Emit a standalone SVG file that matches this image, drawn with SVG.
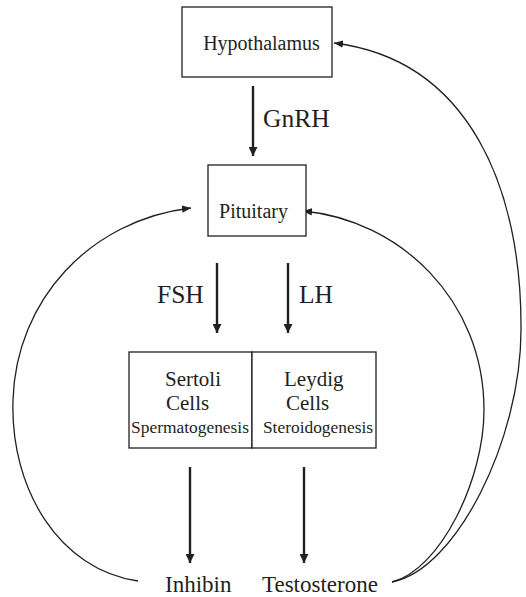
<svg xmlns="http://www.w3.org/2000/svg" width="526" height="597" viewBox="0 0 526 597">
  <style>
    .box { fill: #ffffff; stroke: #231f20; stroke-width: 1.3; }
    .lbl { font-family: "Liberation Serif", "Times New Roman", serif; fill: #231f20; }
    .hormone { font-size: 25.5px; }
    .organ { font-size: 20px; text-anchor: middle; }
    .cell { font-size: 21px; }
    .proc { font-size: 17.4px; text-anchor: middle; }
    .product { font-size: 23px; }
    .flow { stroke: #231f20; stroke-width: 2.4; fill: none; marker-end: url(#headThick); }
    .feedback { stroke: #231f20; stroke-width: 1.3; fill: none; marker-end: url(#headThin); }
  </style>
  <defs>
    <marker id="headThick" markerUnits="userSpaceOnUse" markerWidth="10" markerHeight="9" refX="9" refY="4.5" orient="auto">
      <path d="M0,0 L9,4.5 L0,9 z" fill="#231f20"/>
    </marker>
    <marker id="headThin" markerUnits="userSpaceOnUse" markerWidth="10" markerHeight="8" refX="9" refY="3.75" orient="auto">
      <path d="M0,0 L9,3.75 L0,7.5 z" fill="#231f20"/>
    </marker>
  </defs>

  <rect width="526" height="597" fill="#ffffff"/>

  <g id="connectors">
    <!-- hormone flows -->
    <line class="flow" x1="253" y1="86" x2="253" y2="156"/>
    <line class="flow" x1="217" y1="263" x2="217" y2="333"/>
    <line class="flow" x1="288" y1="263" x2="288" y2="333"/>
    <line class="flow" x1="190" y1="467" x2="190" y2="563"/>
    <line class="flow" x1="304" y1="467" x2="304" y2="563"/>
    <!-- feedback loops -->
    <path class="feedback" d="M138,581 C60,570 10,490 13,400 C16,300 90,220 191,208"/>
    <path class="feedback" d="M392,582 C440,570 484,480 484,410 C484,300 400,220 303,211"/>
    <path class="feedback" d="M392,582 C456,570 521,440 521,330 C522,190 470,60 334,43"/>
  </g>

  <g id="label-gnrh"><text class="lbl hormone" x="263" y="127">GnRH</text></g>
  <g id="label-fsh"><text class="lbl hormone" x="157" y="303">FSH</text></g>
  <g id="label-lh"><text class="lbl hormone" x="299" y="303">LH</text></g>

  <g id="hypothalamus">
    <rect class="box" x="182" y="7" width="150" height="70"/>
    <text class="lbl organ" x="261.5" y="50">Hypothalamus</text>
  </g>

  <g id="pituitary">
    <rect class="box" x="208" y="165" width="98" height="71"/>
    <text class="lbl organ" x="253.5" y="218">Pituitary</text>
  </g>

  <g id="sertoli">
    <rect class="box" x="129" y="352" width="123" height="96"/>
    <text class="lbl cell" x="165" y="386">Sertoli</text>
    <text class="lbl cell" x="166" y="410">Cells</text>
    <text class="lbl proc" x="190" y="433">Spermatogenesis</text>
  </g>

  <g id="leydig">
    <rect class="box" x="252" y="352" width="124" height="96"/>
    <text class="lbl cell" x="284" y="386">Leydig</text>
    <text class="lbl cell" x="286" y="410">Cells</text>
    <text class="lbl proc" x="318" y="433">Steroidogenesis</text>
  </g>

  <g id="inhibin"><text class="lbl product" x="165" y="592">Inhibin</text></g>
  <g id="testosterone"><text class="lbl product" x="262" y="592">Testosterone</text></g>
</svg>
